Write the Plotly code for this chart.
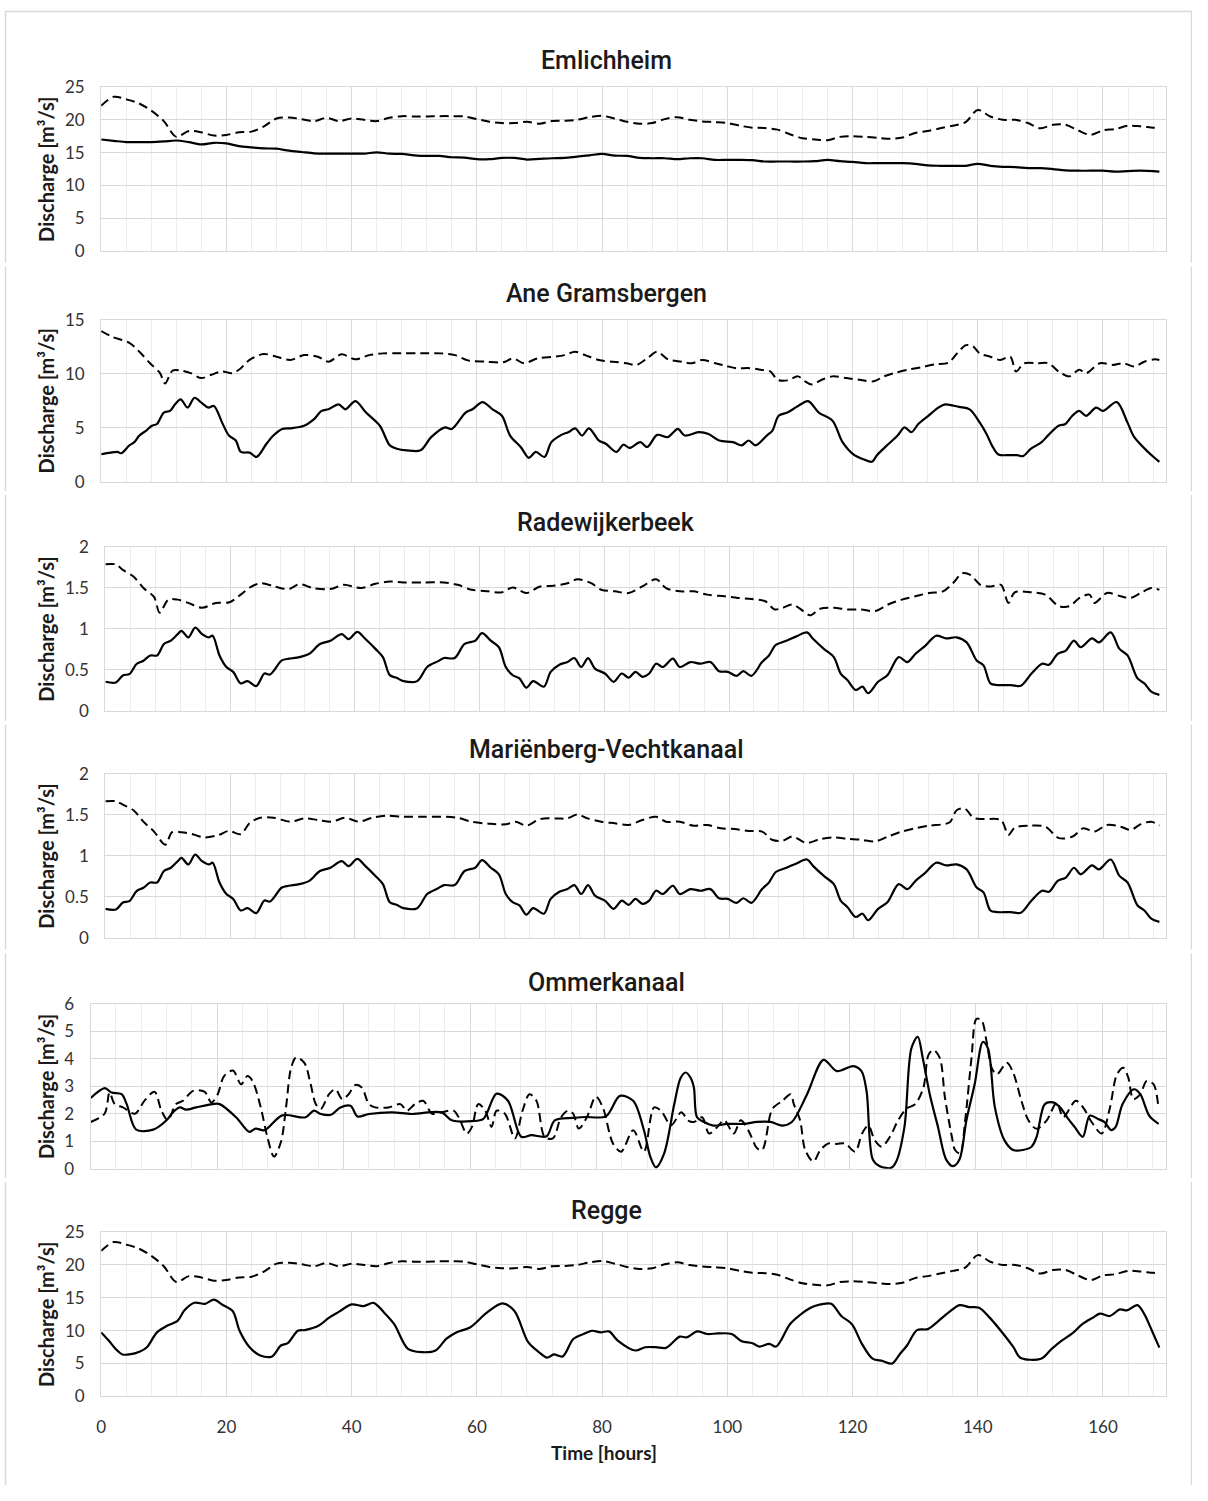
import plotly.graph_objects as go

# The page body keeps the browser's default 8px margin, so the figure itself is
# 16px smaller than the window and all layout positions below are given in
# window pixels and converted with that offset.
WIN_W, WIN_H = 1208, 1501
OFF = 8
W, H = WIN_W - 2 * OFF, WIN_H - 2 * OFF

# ---------------------------------------------------------------- data
# Time axis for the series sampled every two hours
hours_2h = list(range(0, 169, 2)) + [169]

emlichheim_solid = [17.0, 16.8, 16.6, 16.6, 16.6, 16.7, 16.85, 16.6, 16.25, 16.5,
                    16.4, 16.0, 15.8, 15.65, 15.6, 15.3, 15.1, 14.9, 14.85, 14.85,
                    14.85, 14.85, 15.05, 14.85, 14.8, 14.6, 14.5, 14.5, 14.3, 14.25,
                    14.0, 14.0, 14.2, 14.2, 13.95, 14.05, 14.15, 14.2, 14.4, 14.6,
                    14.8, 14.55, 14.5, 14.2, 14.15, 14.15, 14.0, 14.15, 14.15, 13.9,
                    13.9, 13.9, 13.85, 13.65, 13.65, 13.65, 13.65, 13.7, 13.9, 13.7,
                    13.6, 13.4, 13.4, 13.4, 13.4, 13.3, 13.05, 13.0, 13.0, 13.0,
                    13.3, 13.0, 12.85, 12.8, 12.65, 12.65, 12.5, 12.3, 12.25, 12.25,
                    12.25, 12.1, 12.2, 12.25, 12.2, 12.1]
emlichheim_dashed = [22.15, 23.5, 23.1, 22.5, 21.4, 19.8, 17.4, 18.3, 18.1, 17.6,
                     17.7, 18.1, 18.2, 19.0, 20.2, 20.35, 20.1, 19.8, 20.3, 19.8,
                     20.2, 20.0, 19.8, 20.3, 20.55, 20.5, 20.5, 20.55, 20.55, 20.5,
                     20.1, 19.7, 19.5, 19.5, 19.7, 19.4, 19.8, 19.85, 20.0, 20.4,
                     20.6, 20.2, 19.7, 19.4, 19.5, 20.1, 20.4, 20.0, 19.75, 19.65,
                     19.5, 19.1, 18.8, 18.75, 18.5, 17.8, 17.2, 17.0, 16.9, 17.4,
                     17.5, 17.4, 17.25, 17.1, 17.3, 18.0, 18.3, 18.7, 19.1, 19.6,
                     21.5, 20.5, 20.0, 20.0, 19.5, 18.7, 19.25, 19.25, 18.4, 17.7,
                     18.4, 18.6, 19.1, 19.0, 18.8, 18.75]

ane_solid_t = [0, 1.5, 2.6, 3.2, 4.5, 5.3, 6.1, 7.2, 8.1, 8.9,
               10.0, 11.0, 11.8, 12.7, 13.8, 14.9, 16.0, 17.1, 18.0, 19.3,
               20.4, 21.5, 22.3, 23.7, 24.8, 26.4, 27.5, 28.9, 30.2, 32.4,
               34.0, 35.2, 36.3, 37.9, 39.0, 40.6, 42.3, 44.5, 46.1, 47.2,
               48.8, 51.0, 52.7, 54.9, 56.0, 58.2, 59.3, 60.9, 62.5, 64.0,
               65.3, 67.0, 68.3, 69.4, 70.8, 71.9, 73.5, 74.6, 75.7, 76.8,
               77.9, 79.5, 80.6, 82.3, 83.4, 84.4, 86.1, 87.2, 88.8, 90.5,
               92.1, 93.2, 95.4, 97.0, 98.7, 100.9, 102.3, 103.4, 104.5, 106.3,
               107.2, 108.2, 109.6, 111.3, 112.9, 114.6, 116.8, 118.4, 120.3, 121.7,
               123.1, 123.9, 125.5, 127.2, 128.3, 129.4, 130.5, 132.1, 133.7, 134.8,
               137.0, 138.7, 140.3, 141.4, 142.3, 143.3, 144.7, 146.3, 147.2, 148.5,
               150.2, 151.3, 152.9, 154.0, 155.1, 156.2, 157.3, 158.9, 160.0, 162.2,
               163.9, 165.0, 167.2, 169.0]
ane_solid = [2.53, 2.68, 2.74, 2.62, 3.35, 3.65, 4.26, 4.72, 5.17, 5.33,
             6.39, 6.54, 7.15, 7.61, 6.85, 7.76, 7.30, 6.85, 7.0, 5.48,
             4.26, 3.80, 2.74, 2.68, 2.28, 3.50, 4.26, 4.87, 4.93, 5.17,
             5.78, 6.54, 6.69, 7.15, 6.69, 7.45, 6.39, 5.17, 3.35, 3.04,
             2.89, 2.89, 4.11, 5.02, 4.87, 6.39, 6.69, 7.36, 6.69, 6.09,
             4.26, 3.2, 2.2, 2.74, 2.28, 3.65, 4.32, 4.57, 4.93, 4.26,
             4.93, 3.80, 3.50, 2.74, 3.41, 3.11, 3.65, 3.2, 4.32, 4.11,
             4.87, 4.26, 4.57, 4.41, 3.80, 3.65, 3.35, 3.80, 3.35, 4.26,
             4.72, 6.09, 6.39, 7.0, 7.45, 6.39, 5.63, 3.65, 2.44, 2.07,
             1.83, 2.44, 3.35, 4.26, 5.02, 4.57, 5.33, 6.09, 6.85, 7.15,
             6.91, 6.69, 5.48, 4.41, 3.3, 2.5, 2.44, 2.44, 2.35, 3.04,
             3.65, 4.32, 5.17, 5.33, 6.09, 6.54, 6.09, 6.85, 6.54, 7.36,
             5.48, 4.11, 2.74, 1.83]
ane_dashed_t = [0, 1.8, 4.5, 6.1, 7.8, 9.4, 10.2, 11.4, 12.7, 14.3,
                16.0, 17.6, 19.3, 20.9, 22.0, 23.7, 25.9, 28.0, 30.2, 32.4,
                34.6, 36.3, 38.4, 40.6, 42.8, 45.0, 47.8, 51.0, 54.3, 56.5,
                58.7, 61.4, 64.2, 65.8, 67.5, 69.7, 72.4, 74.0, 75.7, 77.3,
                79.5, 81.7, 83.9, 85.5, 87.2, 88.8, 90.5, 92.7, 94.3, 96.0,
                98.1, 99.8, 101.4, 103.6, 105.3, 106.9, 108.0, 109.6, 111.3, 112.4,
                113.5, 115.1, 116.8, 119.0, 121.1, 123.4, 125.0, 126.6, 128.8, 131.0,
                133.2, 135.3, 136.7, 138.1, 139.2, 140.3, 142.0, 143.6, 145.2, 146.1,
                147.4, 149.6, 151.3, 152.9, 154.6, 156.2, 157.3, 159.5, 161.6, 163.3,
                165.0, 166.6, 168.3, 169.0]
ane_dashed = [13.94, 13.39, 12.84, 12.02, 10.95, 10.04, 9.07, 10.28, 10.28, 10.04,
              9.58, 9.89, 10.19, 10.04, 10.35, 11.26, 11.81, 11.56, 11.26, 11.71,
              11.56, 11.1, 11.78, 11.32, 11.71, 11.87, 11.87, 11.87, 11.87, 11.71,
              11.2, 11.1, 11.04, 11.41, 10.95, 11.41, 11.56, 11.71, 12.02, 11.71,
              11.26, 11.1, 10.95, 10.8, 11.41, 12.02, 11.32, 11.1, 10.95, 11.26,
              10.95, 10.71, 10.5, 10.5, 10.35, 10.19, 9.43, 9.37, 9.74, 9.28,
              8.98, 9.43, 9.74, 9.58, 9.43, 9.28, 9.74, 10.04, 10.35, 10.59,
              10.86, 11.01, 11.87, 12.63, 12.54, 11.87, 11.56, 11.26, 11.56, 10.19,
              10.95, 10.95, 10.95, 10.19, 9.74, 10.35, 10.04, 10.95, 10.8, 10.95,
              10.65, 11.1, 11.32, 11.26]

radewijk_solid_t = [0, 1.7, 2.8, 3.9, 5.0, 6.1, 7.2, 8.3, 9.4, 10.5,
                    11.6, 12.2, 13.3, 14.4, 15.5, 16.6, 17.2, 18.3, 19.4, 20.5,
                    21.7, 22.8, 24.2, 25.5, 26.4, 28.3, 29.4, 31.1, 32.7, 34.4,
                    36.1, 37.9, 39.0, 40.4, 41.7, 43.3, 44.5, 45.6, 46.7, 47.8,
                    50.0, 51.6, 53.3, 54.3, 56.0, 57.6, 59.3, 60.4, 61.8, 63.1,
                    64.2, 65.3, 66.4, 67.5, 68.6, 70.3, 71.4, 72.8, 74.1, 75.2,
                    76.3, 77.4, 78.5, 80.1, 81.5, 82.8, 83.9, 85.0, 86.1, 87.2,
                    88.3, 89.4, 91.0, 92.1, 93.8, 95.4, 97.0, 98.4, 99.8, 101.2,
                    102.3, 103.6, 105.3, 106.4, 107.5, 109.2, 110.8, 112.5, 113.5, 115.2,
                    116.8, 117.9, 119.0, 120.3, 121.4, 122.3, 123.9, 125.4, 127.2, 128.6,
                    129.9, 131.5, 133.2, 134.8, 136.5, 138.1, 139.7, 140.8, 141.9, 143.0,
                    145.2, 146.8, 148.5, 150.2, 151.3, 152.7, 154.0, 155.3, 156.4, 158.2,
                    159.3, 161.2, 162.6, 163.9, 165.5, 166.6, 167.7, 169.0]
radewijk_solid = [0.353, 0.345, 0.43, 0.45, 0.57, 0.61, 0.675, 0.675, 0.815, 0.855,
                  0.935, 0.976, 0.895, 1.016, 0.935, 0.895, 0.916, 0.675, 0.534, 0.474,
                  0.333, 0.361, 0.301, 0.454, 0.442, 0.614, 0.635, 0.655, 0.695, 0.815,
                  0.855, 0.935, 0.875, 0.964, 0.875, 0.755, 0.655, 0.434, 0.402, 0.361,
                  0.361, 0.534, 0.602, 0.643, 0.643, 0.815, 0.855, 0.948, 0.855, 0.775,
                  0.534, 0.434, 0.394, 0.281, 0.361, 0.293, 0.474, 0.562, 0.594, 0.643,
                  0.534, 0.643, 0.514, 0.454, 0.353, 0.454, 0.402, 0.474, 0.414, 0.454,
                  0.574, 0.534, 0.635, 0.534, 0.594, 0.574, 0.594, 0.482, 0.474, 0.426,
                  0.482, 0.426, 0.594, 0.675, 0.803, 0.855, 0.908, 0.956, 0.875, 0.755,
                  0.655, 0.454, 0.373, 0.253, 0.293, 0.213, 0.353, 0.434, 0.655, 0.594,
                  0.695, 0.795, 0.916, 0.884, 0.896, 0.835, 0.614, 0.554, 0.333, 0.313,
                  0.313, 0.305, 0.454, 0.574, 0.562, 0.695, 0.735, 0.855, 0.775, 0.884,
                  0.835, 0.956, 0.755, 0.675, 0.394, 0.333, 0.233, 0.193]
radewijk_dashed_t = [0, 1.7, 2.8, 4.5, 6.1, 7.8, 8.7, 10.1, 11.6, 13.3,
                     15.5, 17.7, 19.9, 21.7, 23.2, 24.9, 27.1, 29.4, 31.1, 33.3,
                     36.1, 38.2, 41.0, 43.3, 45.6, 47.8, 51.0, 54.3, 56.5, 58.7,
                     61.4, 63.6, 65.3, 67.5, 69.7, 71.9, 74.1, 75.7, 77.9, 79.5,
                     81.7, 83.9, 86.1, 88.3, 89.9, 92.1, 94.3, 96.5, 99.3, 101.4,
                     103.6, 105.8, 107.3, 108.6, 110.2, 111.9, 113.0, 114.6, 116.8, 119.0,
                     121.2, 123.4, 125.5, 127.7, 129.9, 132.1, 134.3, 135.9, 137.4, 138.7,
                     140.3, 142.0, 143.6, 144.8, 145.8, 148.5, 150.7, 152.9, 154.6, 156.2,
                     157.8, 158.6, 160.6, 162.8, 164.4, 166.0, 167.7, 169.0]
radewijk_dashed = [1.79, 1.787, 1.72, 1.64, 1.50, 1.39, 1.197, 1.357, 1.357, 1.317,
                   1.257, 1.317, 1.325, 1.418, 1.506, 1.558, 1.518, 1.486, 1.546, 1.498,
                   1.486, 1.538, 1.498, 1.55, 1.578, 1.566, 1.566, 1.566, 1.538, 1.478,
                   1.458, 1.446, 1.506, 1.438, 1.518, 1.526, 1.558, 1.606, 1.558, 1.478,
                   1.458, 1.438, 1.518, 1.606, 1.498, 1.458, 1.458, 1.418, 1.398, 1.378,
                   1.365, 1.337, 1.237, 1.257, 1.297, 1.217, 1.165, 1.245, 1.257, 1.237,
                   1.237, 1.217, 1.297, 1.357, 1.398, 1.438, 1.458, 1.558, 1.679, 1.659,
                   1.538, 1.518, 1.538, 1.317, 1.446, 1.446, 1.418, 1.277, 1.277, 1.378,
                   1.418, 1.317, 1.438, 1.398, 1.378, 1.438, 1.498, 1.478]

# the solid series at Mariënberg-Vechtkanaal follows the Radewijkerbeek one
marienberg_solid_t = radewijk_solid_t
marienberg_solid = radewijk_solid
marienberg_dashed_t = [0, 1.7, 2.8, 4.5, 6.1, 7.8, 9.6, 10.7, 12.2, 13.8,
                       15.9, 18.2, 19.8, 21.7, 23.1, 24.8, 27.0, 29.7, 31.9, 34.1,
                       36.3, 38.5, 40.6, 42.8, 45.0, 47.8, 51.0, 54.3, 56.5, 58.7,
                       61.4, 64.2, 65.8, 67.5, 69.7, 72.4, 74.0, 75.7, 77.3, 79.5,
                       81.7, 83.9, 86.1, 88.3, 89.9, 92.1, 94.3, 96.5, 98.7, 100.9,
                       103.1, 105.3, 106.9, 108.6, 110.2, 112.4, 114.6, 116.8, 119.0, 121.2,
                       123.4, 125.5, 127.7, 129.9, 132.1, 134.3, 135.4, 136.5, 137.8, 139.2,
                       140.8, 143.6, 144.8, 145.8, 148.0, 150.7, 152.9, 155.1, 156.8, 158.6,
                       160.6, 162.8, 164.4, 166.0, 167.7, 169.0]
marienberg_dashed = [1.667, 1.667, 1.627, 1.558, 1.418, 1.297, 1.137, 1.289, 1.289, 1.269,
                     1.225, 1.257, 1.305, 1.265, 1.398, 1.466, 1.466, 1.418, 1.458, 1.438,
                     1.418, 1.466, 1.418, 1.466, 1.49, 1.478, 1.478, 1.478, 1.466, 1.418,
                     1.394, 1.386, 1.418, 1.369, 1.45, 1.458, 1.458, 1.506, 1.458, 1.418,
                     1.398, 1.378, 1.438, 1.478, 1.418, 1.418, 1.369, 1.378, 1.337, 1.329,
                     1.305, 1.297, 1.197, 1.185, 1.237, 1.157, 1.205, 1.225, 1.209, 1.197,
                     1.177, 1.237, 1.297, 1.337, 1.369, 1.386, 1.41, 1.558, 1.578, 1.466,
                     1.45, 1.438, 1.257, 1.345, 1.369, 1.357, 1.217, 1.237, 1.337, 1.297,
                     1.378, 1.357, 1.317, 1.386, 1.418, 1.369]

ommer_solid_t = [0, 2.25, 3.3, 4.9, 5.7, 7.2, 9.9, 12.0, 13.0, 14.1,
                 15.1, 16.7, 19.3, 20.4, 23.0, 25.1, 26.1, 27.5, 30.3, 34.0,
                 35.3, 36.4, 38.0, 39.5, 41.1, 42.2, 44.0, 47.7, 50.8, 55.5,
                 57.1, 60.3, 62.1, 64.2, 66.0, 68.1, 69.7, 72.1, 73.4, 76.3,
                 78.2, 81.5, 83.7, 85.8, 87.5, 88.5, 89.4, 90.7, 92.3, 93.3,
                 94.1, 94.9, 95.4, 95.9, 97.0, 98.5, 100.7, 103.3, 105.4, 107.5,
                 109.4, 110.9, 113.3, 115.9, 118.0, 120.6, 121.9, 122.7, 123.7, 124.8,
                 126.6, 127.4, 128.7, 129.8, 130.8, 131.6, 132.7, 134.0, 135.3, 136.4,
                 137.4, 138.5, 139.8, 141.1, 141.9, 143.0, 144.5, 145.9, 147.4, 148.8,
                 149.6, 150.9, 152.2, 153.3, 154.6, 155.6, 156.9, 158.0, 159.3, 160.3,
                 161.4, 162.1, 163.2, 165.0, 166.0, 167.4, 168.9]
ommer_solid = [2.57, 2.93, 2.77, 2.71, 2.35, 1.42, 1.42, 1.76, 2.05, 2.23,
               2.15, 2.23, 2.35, 2.35, 1.87, 1.34, 1.46, 1.40, 1.94, 1.87,
               2.11, 1.99, 1.96, 2.23, 2.29, 1.90, 1.99, 2.05, 1.99, 2.05,
               1.76, 1.73, 1.81, 2.73, 2.47, 1.16, 1.22, 1.18, 1.76, 1.85,
               1.88, 1.91, 2.65, 2.47, 1.40, 0.44, 0.05, 0.56, 2.35, 3.3,
               3.5, 3.3, 2.95, 1.87, 1.70, 1.57, 1.63, 1.63, 1.70, 1.70,
               1.57, 1.70, 2.71, 3.96, 3.55, 3.73, 3.55, 2.83, 0.33, 0.09,
               0.03, 0.26, 1.52, 4.38, 4.80, 4.02, 2.71, 1.52, 0.33, 0.09,
               0.33, 1.76, 3.07, 4.61, 4.38, 2.23, 1.04, 0.68, 0.68, 0.80,
               1.16, 2.35, 2.41, 2.23, 1.81, 1.52, 1.16, 1.93, 1.81, 1.70,
               1.40, 1.52, 2.35, 2.89, 2.71, 1.93, 1.63]
ommer_dashed_t = [0, 2.2, 3.0, 3.8, 5.1, 7.0, 8.5, 10.1, 11.2, 12.2,
                  13.5, 14.6, 16.2, 18.0, 19.1, 20.1, 21.1, 22.5, 23.8, 24.8,
                  25.6, 26.9, 28.0, 29.0, 30.1, 30.9, 31.7, 32.5, 33.8, 34.8,
                  35.6, 36.4, 37.7, 38.7, 39.8, 40.8, 41.9, 42.9, 44.0, 45.0,
                  47.1, 49.0, 50.0, 51.3, 52.6, 54.0, 55.5, 57.4, 58.2, 59.5,
                  60.3, 61.3, 62.4, 63.4, 64.2, 65.5, 67.1, 68.3, 69.4, 70.5,
                  71.8, 73.1, 74.4, 75.5, 76.3, 77.2, 78.5, 79.9, 81.0, 82.6,
                  83.9, 85.8, 87.5, 89.1, 90.2, 91.8, 93.4, 94.5, 95.4, 96.7,
                  97.8, 99.1, 100.2, 101.7, 102.8, 104.0, 105.4, 106.2, 107.5, 108.0,
                  109.4, 110.7, 111.2, 112.2, 113.0, 114.3, 115.4, 116.7, 118.0, 119.3,
                  120.9, 122.0, 123.0, 124.0, 125.1, 126.4, 127.7, 129.0, 130.4, 131.7,
                  132.5, 133.3, 134.3, 135.1, 136.2, 136.7, 137.5, 138.3, 139.3, 140.1,
                  140.9, 141.7, 142.5, 143.3, 144.9, 145.9, 147.2, 148.3, 149.6, 151.2,
                  152.8, 153.8, 155.8, 157.1, 158.3, 159.9, 161.2, 162.3, 163.3, 164.1,
                  164.9, 166.0, 167.0, 168.1, 168.8]
ommer_dashed = [1.70, 2.0, 2.77, 2.35, 2.23, 2.0, 2.47, 2.8, 2.11, 1.76,
                2.35, 2.47, 2.83, 2.8, 2.41, 2.71, 3.37, 3.57, 3.07, 3.37,
                3.19, 2.23, 1.10, 0.44, 0.98, 2.23, 3.67, 4.05, 3.85, 3.07,
                2.35, 2.17, 2.71, 2.89, 2.53, 2.71, 3.05, 2.95, 2.35, 2.23,
                2.23, 2.35, 2.11, 2.35, 2.47, 2.0, 2.05, 2.11, 1.87, 1.28,
                1.52, 2.35, 2.11, 1.52, 2.11, 2.0, 1.10, 2.11, 2.71, 2.47,
                1.16, 1.10, 1.87, 2.11, 2.0, 1.46, 1.88, 2.62, 2.23, 0.92,
                0.62, 1.40, 0.62, 2.23, 2.11, 1.58, 2.05, 1.75, 1.70, 1.87,
                1.28, 1.52, 1.76, 1.28, 1.76, 1.40, 0.74, 0.68, 1.99, 2.23,
                2.47, 2.71, 2.35, 1.76, 0.68, 0.26, 0.68, 0.92, 0.90, 0.92,
                0.62, 1.28, 1.57, 1.04, 0.80, 1.16, 1.76, 2.18, 2.35, 2.95,
                4.14, 4.32, 4.02, 2.59, 1.16, 0.68, 0.56, 1.76, 4.02, 5.45,
                5.39, 4.61, 3.67, 3.43, 3.85, 3.49, 2.47, 1.76, 1.45, 1.76,
                2.41, 1.87, 2.47, 2.18, 1.70, 1.28, 2.23, 3.43, 3.67, 3.31,
                2.53, 2.71, 3.19, 3.07, 2.35]

regge_solid_t = [0, 1.2, 2.3, 3.4, 4.5, 6.2, 7.3, 8.9, 10.5, 12.2,
                 13.3, 14.9, 16.6, 18.0, 19.3, 21.0, 22.1, 23.7, 25.4, 27.3,
                 28.7, 29.8, 31.4, 32.5, 34.7, 36.4, 38.0, 40.0, 41.9, 43.5,
                 45.2, 46.8, 49.0, 51.2, 53.4, 55.1, 56.7, 58.9, 61.6, 64.1,
                 66.0, 68.2, 69.9, 71.2, 72.3, 73.7, 75.4, 77.0, 78.4, 79.8,
                 81.1, 82.5, 85.3, 86.9, 88.6, 90.2, 92.4, 93.5, 95.2, 96.8,
                 98.5, 100.7, 102.3, 104.0, 105.1, 106.7, 107.8, 110.0, 111.6, 113.3,
                 114.9, 116.6, 118.2, 119.9, 121.5, 123.2, 124.8, 126.3, 127.6, 128.7,
                 130.3, 132.0, 133.6, 135.3, 137.1, 138.6, 140.2, 141.9, 144.1, 145.7,
                 146.8, 150.1, 151.8, 153.4, 155.1, 156.7, 158.4, 159.5, 161.1, 162.7,
                 163.8, 165.5, 166.6, 167.8, 169.0]
regge_solid = [9.72, 8.47, 7.21, 6.36, 6.36, 6.81, 7.46, 9.72, 10.72, 11.47,
               13.08, 14.23, 14.08, 14.73, 13.98, 12.98, 9.97, 7.46, 6.21, 6.06,
               7.72, 8.07, 9.97, 10.07, 10.72, 11.97, 12.88, 13.98, 13.73, 14.23,
               12.73, 10.97, 7.21, 6.71, 6.96, 8.72, 9.72, 10.47, 12.73, 14.13,
               12.98, 8.22, 6.71, 5.86, 6.36, 6.06, 8.72, 9.47, 9.97, 9.72,
               9.87, 8.47, 6.96, 7.46, 7.46, 7.36, 9.07, 8.97, 9.87, 9.47,
               9.57, 9.47, 8.37, 8.07, 7.56, 7.97, 7.56, 10.97, 12.37, 13.48,
               13.98, 14.08, 12.22, 10.97, 7.97, 5.71, 5.36, 4.96, 6.46, 7.72,
               10.07, 10.22, 11.37, 12.73, 13.88, 13.58, 13.48, 11.97, 9.47, 7.46,
               5.86, 5.71, 7.21, 8.47, 9.57, 10.97, 11.97, 12.58, 12.22, 13.23,
               13.08, 13.88, 12.5, 10.0, 7.4]
# the dashed series at Regge follows the Emlichheim one
regge_dashed = emlichheim_dashed

station_names = ["Emlichheim", "Ane Gramsbergen", "Radewijkerbeek",
                 "Mariënberg-Vechtkanaal", "Ommerkanaal", "Regge"]
y_max = [25, 15, 2, 2, 6, 25]
y_step = [5, 5, 0.5, 0.5, 1, 5]
x_tick_values = [0, 20, 40, 60, 80, 100, 120, 140, 160]
y_axis_title = "Discharge [m³/s]"
x_axis_title = "Time [hours]"

series = [
    (hours_2h, emlichheim_solid, hours_2h, emlichheim_dashed),
    (ane_solid_t, ane_solid, ane_dashed_t, ane_dashed),
    (radewijk_solid_t, radewijk_solid, radewijk_dashed_t, radewijk_dashed),
    (marienberg_solid_t, marienberg_solid, marienberg_dashed_t, marienberg_dashed),
    (ommer_solid_t, ommer_solid, ommer_dashed_t, ommer_dashed),
    (regge_solid_t, regge_solid, hours_2h, regge_dashed),
]
for name, (ta, qa, tb, qb) in zip(station_names, series):
    if len(ta) != len(qa) or len(tb) != len(qb):
        raise ValueError(f"length mismatch in {name}: {len(ta)}/{len(qa)}, {len(tb)}/{len(qb)}")

# ---------------------------------------------------------------- layout (window pixels)
plot_left = [104.6, 104.6, 108.8, 108.8, 94.0, 104.6]
plot_right = 1173.5
plot_top = [85.0, 321.0, 551.7, 782.0, 1015.0, 1246.7]
plot_bottom = [251.7, 485.3, 717.7, 948.0, 1182.3, 1413.0]
title_y = [58, 295, 527, 757, 993, 1225]
# vertical extent of each chart frame (the frames only show as side borders)
frame_span = [(8, 263), (267, 495), (499, 728), (732, 960), (964, 1192), (1196, 1510)]


def fx(p):
    return (p - OFF) / W


def fy(p):
    return 1 - (p - OFF) / H


TICK_FONT = dict(family="Lato, Open Sans, sans-serif", size=17, color="#333333")
TITLE_FONT = dict(family="Roboto, sans-serif", size=25, color="#1a1a1a", weight=500)
AXIS_TITLE_FONT = dict(family="Lato, Open Sans, sans-serif", size=20, color="#1a1a1a", weight="bold")
X_TITLE_FONT = dict(family="Lato, Open Sans, sans-serif", size=19, color="#1a1a1a", weight="bold")
GRID = "#d9d9d9"
MINOR_GRID = "#ededed"
FRAME = "#d9d9d9"

fig = go.Figure()
annotations = []
shapes = []

for i, name in enumerate(station_names):
    k = i + 1
    xa = "x" if k == 1 else f"x{k}"
    ya = "y" if k == 1 else f"y{k}"
    ta, qa, tb, qb = series[i]

    fig.add_trace(go.Scatter(
        x=ta, y=qa, mode="lines", name=name, showlegend=False, hoverinfo="skip",
        line=dict(color="black", width=2.2, shape="spline", smoothing=0.9),
        xaxis=xa, yaxis=ya))
    fig.add_trace(go.Scatter(
        x=tb, y=qb, mode="lines", name=name, showlegend=False, hoverinfo="skip",
        line=dict(color="black", width=2.0, shape="spline", smoothing=0.9, dash="9px,5px"),
        xaxis=xa, yaxis=ya))

    last = (k == len(station_names))
    fig.update_layout(**{
        ("xaxis" if k == 1 else f"xaxis{k}"): dict(
            domain=[fx(plot_left[i]), fx(plot_right)], anchor=ya,
            range=[0, 170], tickmode="array", tickvals=x_tick_values,
            showgrid=True, gridcolor=GRID, gridwidth=1,
            minor=dict(dtick=4, tick0=0, showgrid=True, gridcolor=MINOR_GRID, gridwidth=1),
            showline=True, linecolor=GRID, linewidth=1.3, mirror=True,
            zeroline=False, showticklabels=last,
            ticks="outside", ticklen=15, tickcolor="rgba(0,0,0,0)",
            tickfont=TICK_FONT, fixedrange=True),
        ("yaxis" if k == 1 else f"yaxis{k}"): dict(
            domain=[fy(plot_bottom[i]), fy(plot_top[i])], anchor=xa,
            range=[0, y_max[i]], dtick=y_step[i], tick0=0,
            showgrid=True, gridcolor=GRID, gridwidth=1.3,
            showline=True, linecolor=GRID, linewidth=1.3, mirror=True,
            zeroline=False, ticks="outside", ticklen=12, tickcolor="rgba(0,0,0,0)",
            tickfont=TICK_FONT, fixedrange=True),
    })

    annotations.append(dict(
        text=name, x=fx(612), y=fy(title_y[i]), xref="paper", yref="paper",
        xanchor="center", yanchor="middle", showarrow=False, font=TITLE_FONT))
    annotations.append(dict(
        text=y_axis_title, x=fx(49), y=fy((plot_top[i] + plot_bottom[i]) / 2),
        xref="paper", yref="paper", xanchor="center", yanchor="middle",
        textangle=-90, showarrow=False, font=AXIS_TITLE_FONT))

    # side borders of the chart frame
    y0, y1 = frame_span[i]
    for xpx in (8.5, 1199.5):
        shapes.append(dict(
            type="line", xref="paper", yref="paper", x0=fx(xpx), x1=fx(xpx),
            y0=fy(y1), y1=fy(y0), line=dict(color=FRAME, width=1.5), layer="below"))

# top edge of the outer frame
shapes.append(dict(
    type="line", xref="paper", yref="paper", x0=fx(8.5), x1=fx(1199.5),
    y0=fy(8.5), y1=fy(8.5), line=dict(color=FRAME, width=1.5), layer="below"))

annotations.append(dict(
    text=x_axis_title, x=fx(610), y=fy(1470), xref="paper", yref="paper",
    xanchor="center", yanchor="middle", showarrow=False, font=X_TITLE_FONT))

fig.update_layout(
    width=W, height=H, margin=dict(l=0, r=0, t=0, b=0),
    paper_bgcolor="white", plot_bgcolor="white",
    annotations=annotations, shapes=shapes, showlegend=False)

fig.write_html("out.html")
